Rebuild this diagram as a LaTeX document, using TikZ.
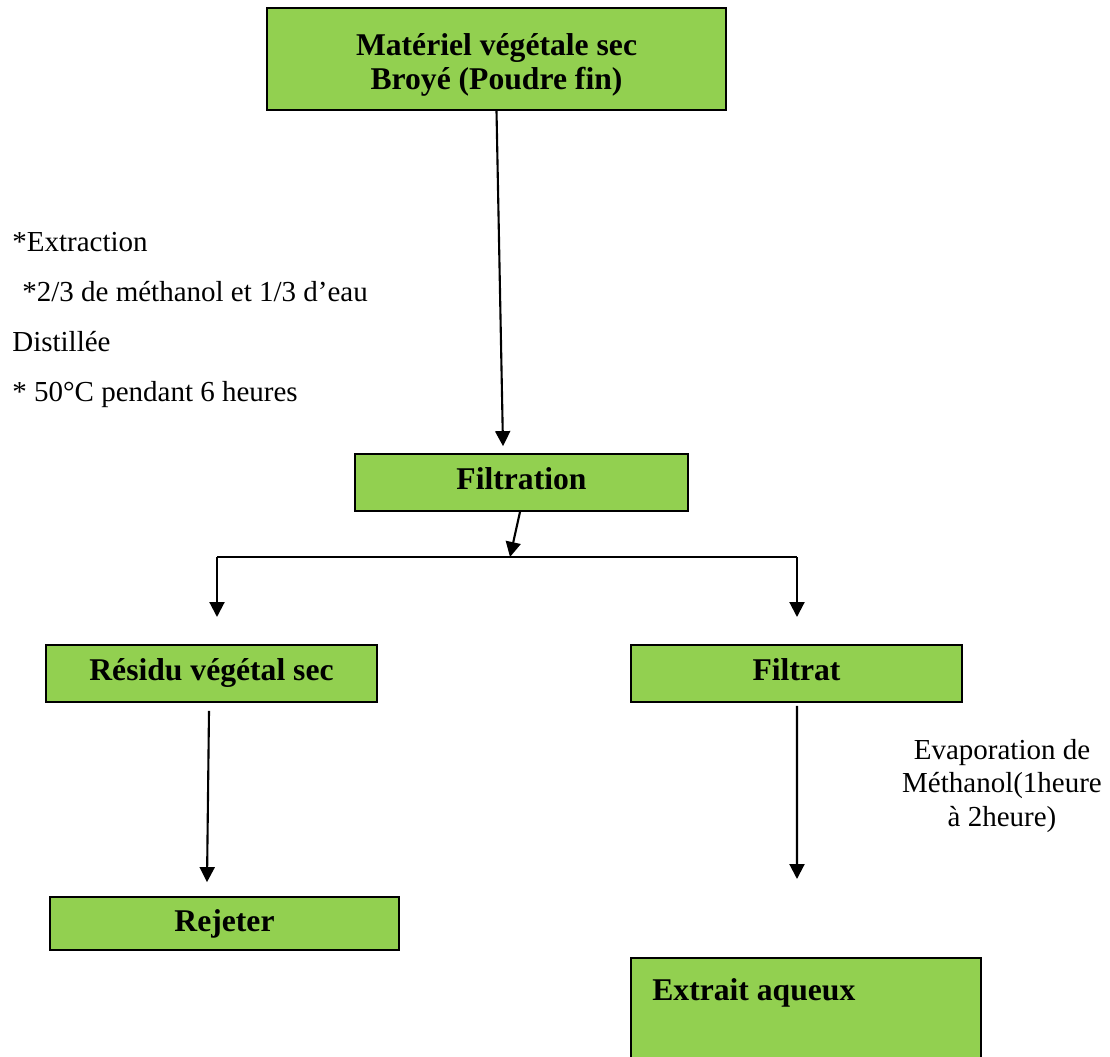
\documentclass[tikz,border=0pt]{standalone}
\usepackage{fontspec}
\setmainfont{Liberation Serif}
\usetikzlibrary{arrows.meta}

\definecolor{leafgreen}{RGB}{146,208,80}

\begin{document}
\begin{tikzpicture}[
        greenbox/.style={draw, fill=leafgreen, line width=1pt, inner sep=0pt,
            font=\fontsize{18}{19.4}\selectfont\bfseries, text height=0.76em, text depth=0pt},
        flow/.style={-{Triangle[length=0.3cm,width=0.3cm]}, line width=1.2pt},
        note/.style={inner sep=0pt, font=\fontsize{16.5}{18.8}\selectfont}
    ]
            \clip (0, 0) rectangle (22.2, -21.14);
            \useasboundingbox (0, 0) rectangle (22.2, -21.14);

            % boxes
            \node[greenbox, minimum width=9.18cm, minimum height=2.04cm, align=center,
                text height=, text depth=] (broye) at (9.93, -1.18)
                {\rule{0pt}{1.05em}Matériel végétale sec\\Broyé (Poudre fin)};
            \node[greenbox, minimum width=6.66cm, minimum height=1.14cm] (filt) at (10.43, -9.65) {Filtration};
            \node[greenbox, minimum width=6.62cm, minimum height=1.14cm] (residu) at (4.23, -13.47) {Résidu végétal sec};
            \node[greenbox, minimum width=6.62cm, minimum height=1.14cm] (filtrat) at (15.93, -13.47) {Filtrat};
            \node[greenbox, minimum width=6.98cm, minimum height=1.06cm, text height=0.95em] (rejet) at (4.49, -18.47) {Rejeter};
            \node[greenbox, anchor=north west, minimum width=7cm, minimum height=2.6cm] (extrait) at (12.6, -19.14) {};
            \node[anchor=base west, inner sep=0pt, font=\fontsize{18}{19.4}\selectfont\bfseries] (extlbl)
                at ([xshift=0.44cm, yshift=-0.86cm]extrait.north west) {Extrait aqueux};

            % notes
            \node[note, anchor=base west] (ext1) at (0.24, -5.04) {*Extraction};
            \node[note, anchor=base west] (ext2) at (0.44, -6.04) {*2/3 de méthanol et 1/3 d’eau};
            \node[note, anchor=base west] (ext3) at (0.24, -7.04) {Distillée};
            \node[note, anchor=base west] (ext4) at (0.24, -8.04) {* 50°C pendant 6 heures};
            \node[note, align=center] (evap) at (20.04, -15.72) {Evaporation de\\Méthanol(1heure\\à 2heure)};

            % connectors
            \coordinate (split) at (10.2, -11.14);
            \coordinate (bl) at (4.34, -11.14);
            \coordinate (br) at (15.94, -11.14);
            \coordinate (evapend) at (15.94, -17.58);

            \draw[flow] (broye.south) -- ([xshift=-0.37cm, yshift=0.14cm]filt.north);
            \draw[flow] ([xshift=-0.03cm]filt.south) -- (split);
            \draw[line width=1pt] (bl) -- (br);
            \foreach \p in {bl, br}
                {
                    \draw[flow] (\p) -- ++(0, -1.2);
                }
            \draw[flow] ([xshift=-0.05cm, yshift=-0.16cm]residu.south) -- ([xshift=-0.35cm, yshift=0.28cm]rejet.north);
            \draw[flow] ([xshift=0.01cm, yshift=-0.06cm]filtrat.south) -- (evapend);
\end{tikzpicture}
\end{document}
